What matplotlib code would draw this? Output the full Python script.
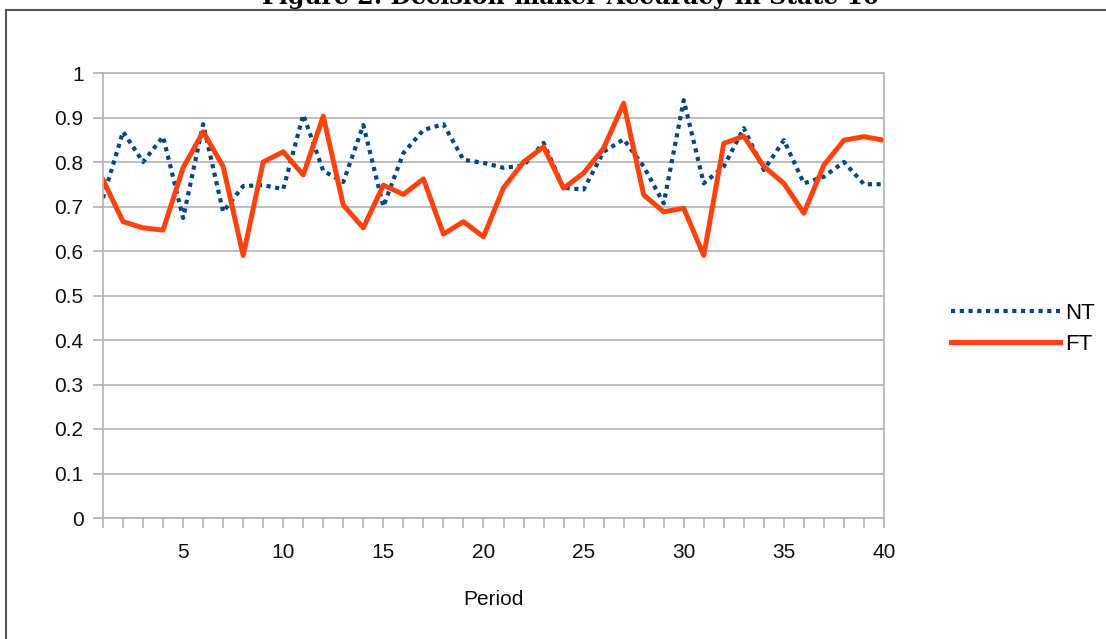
import numpy as np
import matplotlib.pyplot as plt
from matplotlib.lines import Line2D

periods = np.arange(1, 41)

nt = [0.719, 0.868, 0.800, 0.857, 0.674, 0.885, 0.688, 0.746, 0.748, 0.739,
      0.906, 0.780, 0.755, 0.883, 0.700, 0.820, 0.872, 0.885, 0.805, 0.798,
      0.787, 0.792, 0.843, 0.742, 0.738, 0.823, 0.851, 0.790, 0.707, 0.939,
      0.752, 0.790, 0.876, 0.782, 0.849, 0.752, 0.767, 0.800, 0.750, 0.750]

ft = [0.760, 0.666, 0.652, 0.647, 0.787, 0.868, 0.790, 0.590, 0.800, 0.823,
      0.771, 0.903, 0.703, 0.652, 0.748, 0.727, 0.762, 0.638, 0.666, 0.632,
      0.742, 0.800, 0.834, 0.741, 0.775, 0.831, 0.932, 0.726, 0.688, 0.696,
      0.590, 0.842, 0.858, 0.790, 0.752, 0.685, 0.793, 0.849, 0.857, 0.849]

x_labels = [5, 10, 15, 20, 25, 30, 35, 40]
y_ticks = np.round(np.arange(0, 1.01, 0.1), 1)

plt.rcParams['font.family'] = ['Liberation Sans', 'DejaVu Sans']

fig = plt.figure(figsize=(11.06, 6.39), dpi=100)
ax = fig.add_axes([103 / 1106, 121 / 639, 781 / 1106, 445 / 639])

grid_col = '#b3b3b3'
ax.plot(periods, nt, color='#004586', lw=3.0, linestyle=(0, (1, 1.1)), label='NT')
ax.plot(periods, ft, color='#ff420e', lw=3.6, label='FT')

ax.set_xlim(1, 40)
ax.set_ylim(0, 1)
ax.set_yticks(y_ticks)
ax.set_yticklabels([f'{v:g}' for v in y_ticks])
ax.set_xticks(periods)
ax.set_xticklabels([str(p) if p in x_labels else '' for p in periods])
ax.grid(axis='y', color=grid_col, lw=1.2)
ax.set_axisbelow(True)
for s in ax.spines.values():
    s.set_color(grid_col)
    s.set_linewidth(1.2)
ax.tick_params(axis='both', direction='out', color=grid_col, width=1.2, length=7,
               labelsize=15, pad=7, labelcolor='#111111')
ax.tick_params(axis='x', pad=11)
ax.set_xlabel('Period', fontsize=15, labelpad=20, color='#111111')

leg = ax.legend(loc='center left', bbox_to_anchor=(1.086, 0.425), frameon=False,
                fontsize=16, handlelength=4.9, handletextpad=0.25, labelspacing=0.45,
                borderaxespad=0, borderpad=0)

# surrounding frame and title
fig.add_artist(Line2D([6 / 1106, 6 / 1106], [0, 1 - 10 / 639], color='#555555', lw=1.5))
fig.add_artist(Line2D([6 / 1106, 1], [1 - 10 / 639, 1 - 10 / 639], color='#555555', lw=1.5))
fig.text(571 / 1106, 1 - 4 / 639, 'Figure 2: Decision-maker Accuracy in State 10',
         ha='center', va='baseline', fontsize=17, fontweight='bold', family='DejaVu Serif')

fig.savefig('out.png', dpi=100)
